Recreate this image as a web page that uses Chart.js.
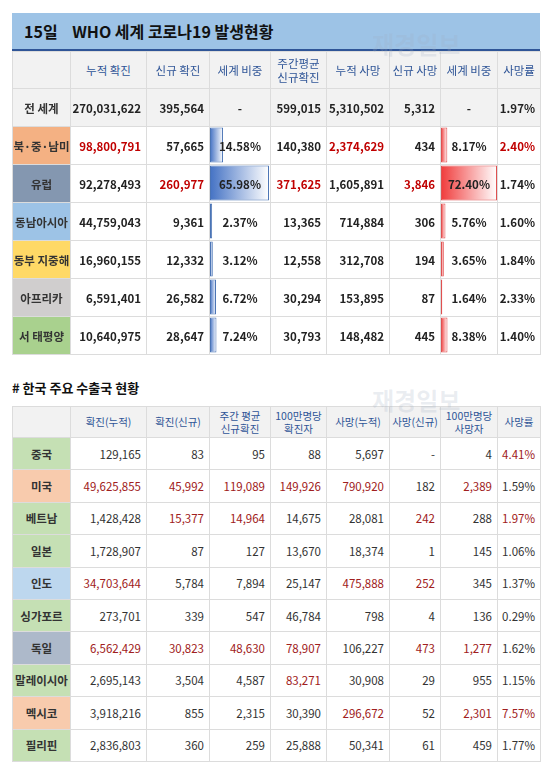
<!DOCTYPE html>
<html><head><meta charset="utf-8">
<script src="https://cdn.jsdelivr.net/npm/chart.js@4.4.1/dist/chart.umd.min.js"></script>
<style>
body{margin:0;background:#fff;font-family:"Noto Sans CJK KR","Noto Sans",sans-serif;width:550px;height:771px;position:relative;overflow:hidden}
table{position:absolute;left:12px;border-collapse:collapse;table-layout:fixed;font-size:11.5px;z-index:2}
td{border:1px solid #dcdcdc;padding:0 5px 0 0;text-align:right;white-space:nowrap;overflow:hidden;color:#222;background:transparent}
td.lab{text-align:center;padding:0;font-weight:bold;color:#333}
tr.hd td{background:#f2f2f2;text-align:center;padding:0;color:#2f5597;line-height:1.25}
td.c{text-align:center;padding:0}
#t1 td{font-weight:600}
#t1 tr.hd td{font-weight:normal}
#t2 td{color:#333;font-weight:normal}
#t2 td.lab{font-weight:bold}
#t2 tr.hd td{color:#2f5597;font-size:10.5px}
.red1{color:#c00000 !important}
.red2{color:#a02020 !important}
#title1{position:absolute;left:12px;top:13px;width:528px;height:36px;background:#9dc3e6;border-bottom:2px solid #2f5597;font-weight:bold;font-size:16px;line-height:36px;color:#111}
#title2{position:absolute;left:12px;top:378px;font-weight:bold;font-size:13px;color:#111}
.wm{position:absolute;font-size:24px;font-weight:bold;color:rgba(160,175,195,0.22);z-index:3}
.cv{position:absolute;z-index:1}
</style></head><body>
<div id="title1"><span style="margin-left:12px">15일&nbsp;&nbsp;&nbsp;&nbsp;WHO 세계 코로나19 발생현황</span></div>
<div class="wm" style="left:372px;top:26px">재경일보</div>
<div id="title2"># 한국 주요 수출국 현황</div>
<div class="wm" style="left:372px;top:382px">재경일보</div>
<div class="cv" style="left:210px;top:126px;width:59px;height:228px"><canvas id="b1"></canvas></div>
<div class="cv" style="left:441px;top:126px;width:56px;height:228px"><canvas id="b2"></canvas></div>
<table id="t1" style="top:51px"></table>
<table id="t2" style="top:406px"></table>
<script>
const widths=[58,76,63,61,56,63,51,57,43];
// Table 1
const head1=["","누적 확진","신규 확진","세계 비중","주간평균<br>신규확진","누적 사망","신규 사망","세계 비중","사망률"];
const regions=["전 세계","북·중·남미","유럽","동남아시아","동부 지중해","아프리카","서 태평양"];
const regionColors=["#f2f2f2","#f4b183","#8497b0","#9dc3e6","#ffd966","#d0cece","#a9d18e"];
const cumCases=["270,031,622","98,800,791","92,278,493","44,759,043","16,960,155","6,591,401","10,640,975"];
const newCases=["395,564","57,665","260,977","9,361","12,332","26,582","28,647"];
const caseShare=[null,14.58,65.98,2.37,3.12,6.72,7.24];
const weeklyAvg=["599,015","140,380","371,625","13,365","12,558","30,294","30,793"];
const cumDeaths=["5,310,502","2,374,629","1,605,891","714,884","312,708","153,895","148,482"];
const newDeaths=["5,312","434","3,846","306","194","87","445"];
const deathShare=[null,8.17,72.40,5.76,3.65,1.64,8.38];
const fatality=["1.97%","2.40%","1.74%","1.60%","1.84%","2.33%","1.40%"];
const red1=[[1,0],[1,4],[1,7],[2,1],[2,3],[2,5]];
// Table 2
const head2=["","확진(누적)","확진(신규)","주간 평균<br>신규확진","100만명당<br>확진자","사망(누적)","사망(신규)","100만명당<br>사망자","사망률"];
const countries=["중국","미국","베트남","일본","인도","싱가포르","독일","말레이시아","멕시코","필리핀"];
const countryColors=["#c5e0b4","#f8cbad","#c5e0b4","#c5e0b4","#bdd7ee","#c5e0b4","#adb9ca","#c5e0b4","#f8cbad","#c5e0b4"];
const kCum=["129,165","49,625,855","1,428,428","1,728,907","34,703,644","273,701","6,562,429","2,695,143","3,918,216","2,836,803"];
const kNew=["83","45,992","15,377","87","5,784","339","30,823","3,504","855","360"];
const kWeek=["95","119,089","14,964","127","7,894","547","48,630","4,587","2,315","259"];
const kPerM=["88","149,926","14,675","13,670","25,147","46,784","78,907","83,271","30,390","25,888"];
const kDeaths=["5,697","790,920","28,081","18,374","475,888","798","106,227","30,908","296,672","50,341"];
const kNewD=["-","182","242","1","252","4","473","29","52","61"];
const kDPerM=["4","2,389","288","145","345","136","1,277","955","2,301","459"];
const kFat=["4.41%","1.59%","1.97%","1.06%","1.37%","0.29%","1.62%","1.15%","7.57%","1.77%"];
const red2=[[0,7],[1,0],[1,1],[1,2],[1,3],[1,4],[1,6],[2,1],[2,2],[2,5],[2,7],[4,0],[4,4],[4,5],[6,0],[6,1],[6,2],[6,3],[6,5],[6,6],[7,3],[8,4],[8,6],[8,7]];

function build(id,head,labels,colors,cols,reds,cls,hh,rh,centerCols,firstGray){
  const t=document.getElementById(id);
  let cg='<colgroup>'+widths.map(w=>`<col style="width:${w}px">`).join('')+'</colgroup>';
  let h=`<tr class="hd" style="height:${hh}px">`+head.map(x=>`<td>${x}</td>`).join('')+'</tr>';
  labels.forEach((l,i)=>{
    const bg=(firstGray&&i==0)?'#f2f2f2':null;
    h+=`<tr style="height:${rh}px${bg?';background:'+bg:''}"><td class="lab" style="background:${colors[i]}">${l}</td>`;
    cols.forEach((c,j)=>{
      const r=reds.some(p=>p[0]==i&&p[1]==j)?cls:'';
      const cc=centerCols.includes(j)?' c':'';
      h+=`<td class="${r}${cc}">${c[i]}</td>`;
    });
    h+='</tr>';
  });
  t.innerHTML=cg+h;
}
const fmt=a=>a.map(v=>v==null?'-':v.toFixed(2)+'%');
build('t1',head1,regions,regionColors,[cumCases,newCases,fmt(caseShare),weeklyAvg,cumDeaths,newDeaths,fmt(deathShare),fatality],red1,'red1',37,38,[2,6],true);
build('t2',head2,countries,countryColors,[kCum,kNew,kWeek,kPerM,kDeaths,kNewD,kDPerM,kFat],red2,'red2',31,32.4,[],false);

function bars(id,vals,max,c1,border){
  const labels=regions.slice(1);
  new Chart(document.getElementById(id),{type:'bar',
    data:{labels,datasets:[{data:vals.slice(1),borderColor:border,borderWidth:1,borderSkipped:false,
      backgroundColor:(ctx)=>{const sx=ctx.chart.scales.x;
        if(!sx||ctx.raw==null)return c1;
        const x0=sx.getPixelForValue(0),x1=sx.getPixelForValue(ctx.raw);
        if(!isFinite(x0)||!isFinite(x1))return c1;
        const g=ctx.chart.ctx.createLinearGradient(x0,0,Math.max(x1,x0+1),0);
        g.addColorStop(0,c1);g.addColorStop(1,'#ffffff');return g;},
      categoryPercentage:1,barPercentage:0.92}]},
    options:{indexAxis:'y',responsive:true,maintainAspectRatio:false,animation:false,
      layout:{padding:0},
      plugins:{legend:{display:false},tooltip:{enabled:false}},
      scales:{x:{display:false,min:0,max:max},y:{display:false}}}});
}
bars('b1',caseShare,66,'#4472c4','#4a74b5');
bars('b2',deathShare,72.4,'#f03c3c','#e05050');
</script></body></html>
